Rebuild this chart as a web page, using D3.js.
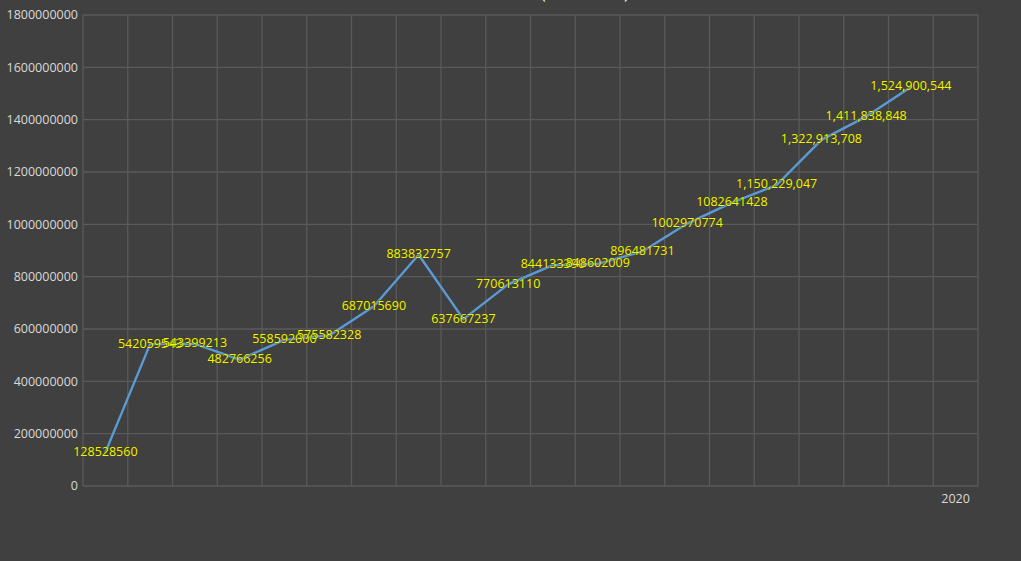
<!DOCTYPE html>
<html>
<head>
    <meta charset="UTF-8">
    <title>Line chart</title>
    <script src="https://d3js.org/d3.v7.min.js"></script>
    <style>
        body {
            margin: 0;
            padding: 0;
            background: #404040;
            overflow: hidden;
        }
        svg {
            display: block;
        }
        .grid line {
            stroke: #5a5a5a;
            stroke-width: 1.3px;
        }
        .tick-label {
            font: 12.5px "Open Sans", sans-serif;
            fill: #d9d9d9;
        }
        .value-label {
            font: 12.5px "Open Sans", sans-serif;
            fill: #f5f500;
            paint-order: stroke;
            stroke: #3a3a10;
            stroke-width: 0.6px;
        }
    </style>
</head>
<body>
    <svg></svg>

    <script>
        // data
        const years = ["2001", "2002", "2003", "2004", "2005", "2006", "2007", "2008", "2009", "2010",
                       "2011", "2012", "2013", "2014", "2015", "2016", "2017", "2018", "2019", "2020"];
        const tickLabels = ["", "", "", "", "", "", "", "", "", "",
                            "", "", "", "", "", "", "", "", "", "2020"];
        const values = [128528560, 542059543, 543399213, 482766256, 558592000, 575582328, 687015690,
                         883832757, 637667237, 770613110, 844133390, 848602009, 896481731, 1002970774,
                         1082641428, 1150229047, 1322913708, 1411838848, 1524900544];
        // last labels were shown with thousands separators
        const grouped = [false, false, false, false, false, false, false, false, false, false,
                         false, false, false, false, false, true, true, true, true];
        const yTicks = [0, 200000000, 400000000, 600000000, 800000000, 1000000000,
                        1200000000, 1400000000, 1600000000, 1800000000];

        const width = 1021, height = 561;
        const margin = {top: 15, right: 43, bottom: 75, left: 83};

        const svg = d3.select("svg")
            .attr("width", width)
            .attr("height", height);

        const x = d3.scaleBand()
            .domain(years)
            .range([margin.left, width - margin.right]);

        const y = d3.scaleLinear()
            .domain([0, 1800000000])
            .range([height - margin.bottom, margin.top]);

        // title (only its bottom edge shows at the top of the picture)
        svg.append("text")
            .attr("x", 541)
            .attr("y", -1)
            .attr("text-anchor", "start")
            .attr("fill", "#ffffff")
            .style("font", "16px 'Open Sans', sans-serif")
            .text("(2001-2020)");

        // grid
        const grid = svg.append("g").attr("class", "grid");
        grid.selectAll(".h")
            .data(yTicks)
            .enter().append("line")
            .attr("x1", margin.left)
            .attr("x2", width - margin.right)
            .attr("y1", d => y(d))
            .attr("y2", d => y(d));

        const xEdges = years.map(d => x(d)).concat([x(years[years.length - 1]) + x.bandwidth()]);
        grid.selectAll(".v")
            .data(xEdges)
            .enter().append("line")
            .attr("x1", d => d)
            .attr("x2", d => d)
            .attr("y1", margin.top)
            .attr("y2", height - margin.bottom);

        // y axis labels
        svg.append("g")
            .selectAll("text")
            .data(yTicks)
            .enter().append("text")
            .attr("class", "tick-label")
            .attr("x", margin.left - 5)
            .attr("y", d => y(d))
            .attr("dy", "0.35em")
            .attr("text-anchor", "end")
            .text(d => d);

        // x axis labels
        svg.append("g")
            .selectAll("text")
            .data(years)
            .enter().append("text")
            .attr("class", "tick-label")
            .attr("x", d => x(d) + x.bandwidth() / 2)
            .attr("y", height - margin.bottom + 13)
            .attr("dy", "0.35em")
            .attr("text-anchor", "middle")
            .text((d, i) => tickLabels[i]);

        // line
        const pts = values.map((v, i) => ({year: years[i], value: v, grouped: grouped[i]}));
        const line = d3.line()
            .x(d => x(d.year) + x.bandwidth() / 2)
            .y(d => y(d.value));

        svg.append("path")
            .datum(pts)
            .attr("fill", "none")
            .attr("stroke", "#5b9bd5")
            .attr("stroke-width", 2.4)
            .attr("stroke-linejoin", "round")
            .attr("stroke-linecap", "round")
            .attr("d", line);

        // value labels, centered on points
        const fmt = d3.format(",");
        svg.append("g")
            .selectAll("text")
            .data(pts)
            .enter().append("text")
            .attr("class", "value-label")
            .attr("x", d => x(d.year) + x.bandwidth() / 2)
            .attr("y", d => y(d.value) - 1)
            .attr("dy", "0.35em")
            .attr("text-anchor", "middle")
            .text(d => d.grouped ? fmt(d.value) : d.value);
    </script>
</body>
</html>
